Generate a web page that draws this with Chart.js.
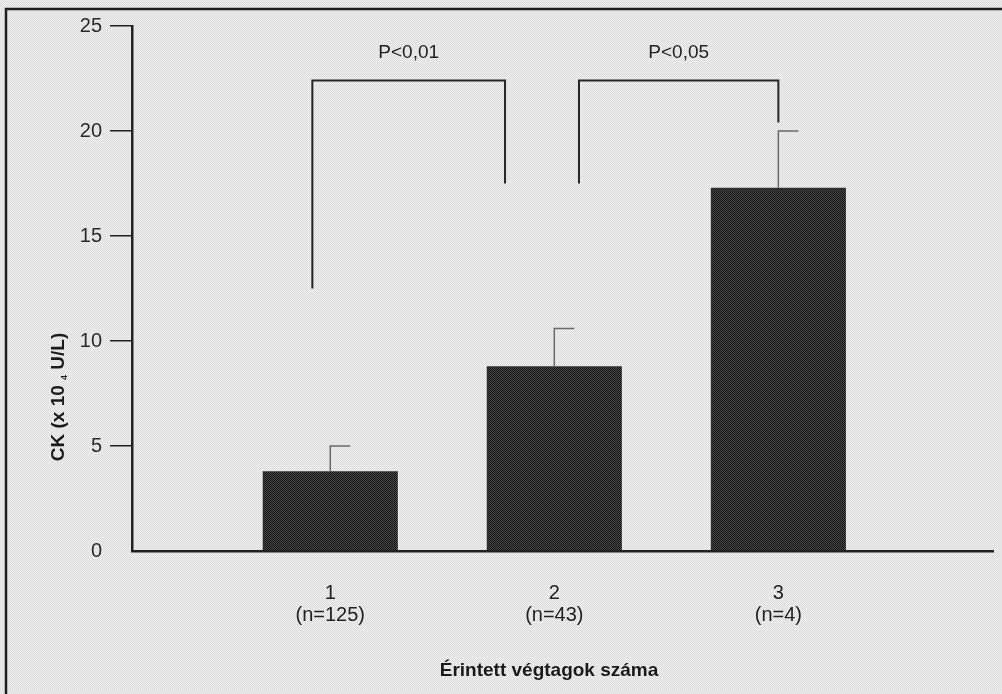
<!DOCTYPE html>
<html>
<head>
<meta charset="utf-8">
<script src="https://cdn.jsdelivr.net/npm/chart.js@4.4.0/dist/chart.umd.min.js"></script>
<style>
  html, body { margin: 0; padding: 0; background: #e8e8e8; }
  #wrap { width: 1002px; height: 694px; }
</style>
</head>
<body>
<div id="wrap"><canvas id="chart" width="1002" height="694"></canvas></div>
<script>
// data
const categories = [1, 2, 3];
const catLabels = ["1", "2", "3"];
const groupSizes = ["(n=125)", "(n=43)", "(n=4)"];
const means = [3.8, 8.8, 17.3];
const errors = [1.2, 1.8, 2.7];

// significance brackets
const bracketFrom = [0.92, 2.11];
const bracketTo = [1.78, 3.0];
const bracketLegFrom = [12.5, 17.5];
const bracketLegTo = [17.5, 20.4];
const bracketTop = [22.4, 22.4];
const bracketText = ["P<0,01", "P<0,05"];

const FONT = "'Liberation Sans Narrow', 'Liberation Sans', Arial, sans-serif";

const canvas = document.getElementById("chart");
const ctx0 = canvas.getContext("2d");

// small checker tile to imitate the printed halftone
function halftone(light, dark) {
  const c = document.createElement("canvas");
  c.width = 2;
  c.height = 2;
  const g = c.getContext("2d");
  g.fillStyle = light;
  g.fillRect(0, 0, 2, 2);
  g.fillStyle = dark;
  g.fillRect(0, 0, 1, 1);
  g.fillRect(1, 1, 1, 1);
  return ctx0.createPattern(c, "repeat");
}
const pagePattern = halftone("#efefef", "#dcdcdc");
const barPattern = halftone("#474747", "#161616");

const decorations = {
  id: "decorations",
  beforeDraw(chart) {
    const ctx = chart.ctx;
    ctx.save();
    ctx.fillStyle = pagePattern;
    ctx.fillRect(0, 0, chart.width, chart.height);
    // frame of the printed figure
    ctx.strokeStyle = "#1e1e1e";
    ctx.lineWidth = 2.5;
    ctx.beginPath();
    ctx.moveTo(6, chart.height);
    ctx.lineTo(6, 9);
    ctx.lineTo(chart.width, 9);
    ctx.stroke();
    ctx.restore();
  },
  afterDatasetsDraw(chart) {
    const { ctx, scales: { x, y } } = chart;
    ctx.save();

    // upper error bars with a cap to the right
    ctx.strokeStyle = "#6a6a6a";
    ctx.lineWidth = 1.5;
    categories.forEach((c, i) => {
      const px = x.getPixelForValue(c);
      const top = y.getPixelForValue(means[i]);
      const end = y.getPixelForValue(means[i] + errors[i]);
      ctx.beginPath();
      ctx.moveTo(px, top);
      ctx.lineTo(px, end);
      ctx.lineTo(px + 20, end);
      ctx.stroke();
    });

    // brackets + p values
    ctx.strokeStyle = "#262626";
    ctx.lineWidth = 2;
    ctx.fillStyle = "#222";
    ctx.font = "19px " + FONT;
    ctx.textAlign = "center";
    ctx.textBaseline = "middle";
    bracketText.forEach((t, i) => {
      const x0 = x.getPixelForValue(bracketFrom[i]);
      const x1 = x.getPixelForValue(bracketTo[i]);
      const yt = y.getPixelForValue(bracketTop[i]);
      ctx.beginPath();
      ctx.moveTo(x0, y.getPixelForValue(bracketLegFrom[i]));
      ctx.lineTo(x0, yt);
      ctx.lineTo(x1, yt);
      ctx.lineTo(x1, y.getPixelForValue(bracketLegTo[i]));
      ctx.stroke();
      ctx.fillText(t, (x0 + x1) / 2, yt - 28);
    });

    // x axis title
    ctx.font = "bold 19px " + FONT;
    ctx.fillStyle = "#1a1a1a";
    ctx.fillText("Érintett végtagok száma", 549, 671);

    // y axis title with the small 4
    ctx.translate(64, 397);
    ctx.rotate(-Math.PI / 2);
    ctx.textAlign = "left";
    ctx.textBaseline = "alphabetic";
    const big = "bold 19px " + FONT;
    const small = "bold 9px " + FONT;
    ctx.font = big;
    const w1 = ctx.measureText("CK (x 10 ").width;
    const w3 = ctx.measureText(" U/L)").width;
    ctx.font = small;
    const w2 = ctx.measureText("4").width;
    let cx = -(w1 + w2 + w3) / 2;
    ctx.font = big;
    ctx.fillText("CK (x 10 ", cx, 0);
    cx += w1;
    ctx.font = small;
    ctx.fillText("4", cx, 3);
    cx += w2;
    ctx.font = big;
    ctx.fillText(" U/L)", cx, 0);

    ctx.restore();
  }
};

new Chart(canvas, {
  type: "bar",
  data: {
    datasets: [{
      data: categories.map((c, i) => ({ x: c, y: means[i] })),
      backgroundColor: barPattern,
      borderWidth: 0,
      barPercentage: 0.603,
      categoryPercentage: 1
    }]
  },
  options: {
    responsive: false,
    animation: false,
    devicePixelRatio: 1,
    layout: { padding: { top: 26, right: 9, left: 0, bottom: 0 } },
    plugins: {
      legend: { display: false },
      tooltip: { enabled: false }
    },
    scales: {
      x: {
        type: "linear",
        min: 0.115,
        max: 3.958,
        offset: false,
        afterBuildTicks: (scale) => {
          scale.ticks = categories.map(v => ({ value: v }));
        },
        afterFit: (scale) => { scale.height = 143; },
        grid: { display: false, drawTicks: false },
        border: { display: true, color: "#222", width: 2.5 },
        ticks: {
          padding: 31,
          maxRotation: 0,
          autoSkip: false,
          color: "#222",
          font: { family: FONT, size: 20, lineHeight: 1.1 },
          callback: (value, index) => [catLabels[index], groupSizes[index]]
        }
      },
      y: {
        min: 0,
        max: 25,
        afterFit: (scale) => { scale.width = 132; },
        grid: {
          drawOnChartArea: false,
          tickLength: 22,
          lineWidth: 1.5,
          color: (c) => (c.tick && c.tick.value === 0 ? "rgba(0,0,0,0)" : "#222")
        },
        border: { display: true, color: "#222", width: 2.5 },
        ticks: {
          stepSize: 5,
          padding: 8,
          color: "#2a2a2a",
          font: { family: FONT, size: 20 }
        }
      }
    }
  },
  plugins: [decorations]
});
</script>
</body>
</html>
